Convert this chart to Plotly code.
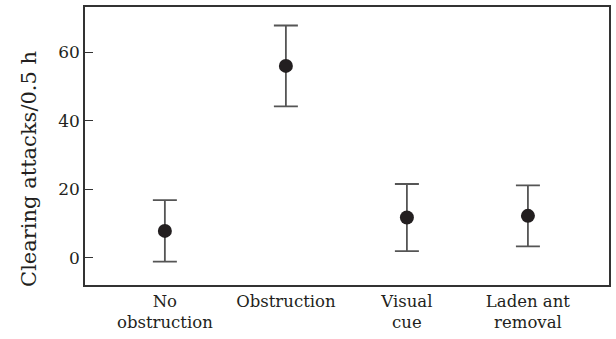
import plotly.graph_objects as go

categories = ["No<br>obstruction", "Obstruction", "Visual<br>cue", "Laden ant<br>removal"]
means = [7.8, 56.0, 11.7, 12.2]
errors = [9.0, 11.8, 9.8, 8.9]
y_ticks = [0, 20, 40, 60]
y_title = "Clearing attacks/0.5 h"

fig = go.Figure()
fig.add_trace(go.Scatter(
    x=list(range(len(categories))),
    y=means,
    mode="markers",
    marker=dict(size=14, color="#231f20"),
    error_y=dict(type="data", array=errors, visible=True, color="#555555", thickness=1.8, width=12),
    showlegend=False,
))

font_family = "DejaVu Serif"
fig.update_layout(
    width=616, height=339,
    margin=dict(l=85, r=5, t=7, b=54),
    plot_bgcolor="white", paper_bgcolor="white",
    font=dict(family=font_family, color="#231f20", size=17),
)
fig.add_annotation(
    text=y_title, textangle=-90, showarrow=False,
    xref="paper", yref="paper", x=-0.108, y=0.419,
    xanchor="center", yanchor="middle",
    font=dict(size=21, family=font_family, color="#231f20"),
)
fig.update_xaxes(
    range=[-0.66, 3.67],
    tickmode="array", tickvals=list(range(len(categories))), ticktext=categories,
    showline=True, linecolor="#333333", linewidth=1.5, mirror=True,
    showgrid=False, zeroline=False, ticks="",
    tickfont=dict(size=16.5),
)
fig.update_yaxes(
    range=[-8.0, 73.2],
    tickmode="array", tickvals=y_ticks, ticktext=[str(v) for v in y_ticks],
    showline=True, linecolor="#333333", linewidth=1.5, mirror=True,
    showgrid=False, zeroline=False, ticks="inside", ticklen=8, tickcolor="#333333",
    tickfont=dict(size=17),
)
fig.write_html("out.html", config={"displayModeBar": False},
               post_script="document.body.style.margin='0px';")
